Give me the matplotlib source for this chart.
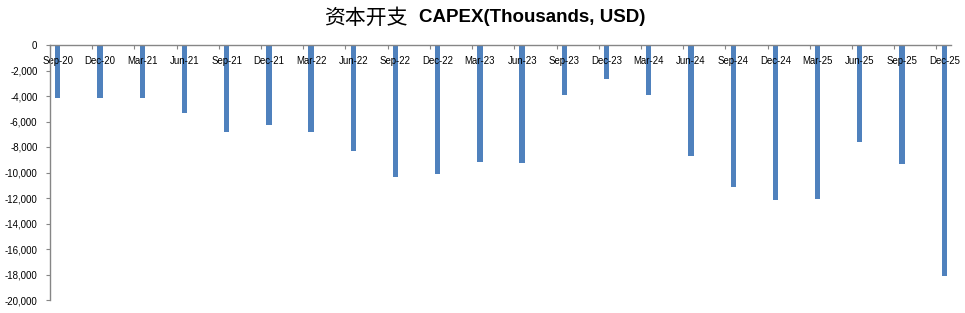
import matplotlib
matplotlib.use("Agg")
import matplotlib.pyplot as plt
import matplotlib.transforms as mtransforms
from matplotlib.ticker import FuncFormatter, FixedLocator

categories = ["Sep-20", "Dec-20", "Mar-21", "Jun-21", "Sep-21", "Dec-21", "Mar-22",
              "Jun-22", "Sep-22", "Dec-22", "Mar-23", "Jun-23", "Sep-23", "Dec-23",
              "Mar-24", "Jun-24", "Sep-24", "Dec-24", "Mar-25", "Jun-25", "Sep-25", "Dec-25"]
capex = [-4130, -4130, -4130, -5310, -6800, -6250, -6800,
         -8290, -10330, -10090, -9150, -9230, -3920, -2640,
         -3920, -8680, -11110, -12130, -12050, -7580, -9310, -18090]
y_ticks = list(range(-20000, 1, 2000))

W, H = 965, 313
fig = plt.figure(figsize=(W / 100, H / 100), dpi=100)
ax = fig.add_axes([50 / W, 1 - 300 / H, (951 - 50) / W, (300 - 45) / H])

bar_color = "#4F81BD"
axis_color = "#868686"
font = "Liberation Sans"

x = list(range(len(categories)))
ax.bar(x, capex, width=0.125, color=bar_color, zorder=1)

ax.set_xlim(-0.185, 21.16)
ax.set_ylim(-20000, 0)

for s in ["right", "bottom"]:
    ax.spines[s].set_visible(False)
for s in ["top", "left"]:
    ax.spines[s].set_color(axis_color)
    ax.spines[s].set_linewidth(1.0)

# x axis along zero line: major ticks at category boundaries, labels at bar centers
ax.xaxis.set_ticks_position("top")
ax.xaxis.set_major_locator(FixedLocator([i - 0.185 for i in x]))
ax.xaxis.set_major_formatter(FuncFormatter(lambda v, p: ""))
ax.set_xticks(x, minor=True)
ax.set_xticklabels(categories, minor=True)
ax.tick_params(axis="x", which="major", direction="in", length=3, color=axis_color,
               top=True, labeltop=False)
ax.tick_params(axis="x", which="minor", length=0, top=True, bottom=False,
               labeltop=False, labelbottom=True, pad=0)
for lbl in ax.get_xticklabels(minor=True):
    lbl.set_fontfamily(font)
    lbl.set_fontsize(6.9)
offset = mtransforms.ScaledTranslation(0, -15.5 / 100, fig.dpi_scale_trans)
for t in ax.xaxis.get_minor_ticks():
    t.label1.set_transform(ax.get_xaxis_transform() + offset)
    t.label1.set_y(1.0)
    t.label1.set_va("center")

ax.set_yticks(y_ticks)
ax.yaxis.set_major_formatter(FuncFormatter(lambda v, p: f"{int(v):,}"))
ax.tick_params(axis="y", direction="out", length=3, color=axis_color, pad=6, labelsize=7)
for lbl in ax.get_yticklabels():
    lbl.set_fontfamily(font)

# title: Chinese regular, English bold
ty = 1 - 18 / H
fig.text(408 / W, ty, "资本开支", ha="right", va="center", fontsize=15,
         family=["Noto Sans CJK SC", "DejaVu Sans"])
fig.text(419 / W, ty, "CAPEX(Thousands, USD)", ha="left", va="center", fontsize=13.5,
         fontweight="bold", family=[font, "DejaVu Sans"])

fig.savefig("out.png", dpi=100)
